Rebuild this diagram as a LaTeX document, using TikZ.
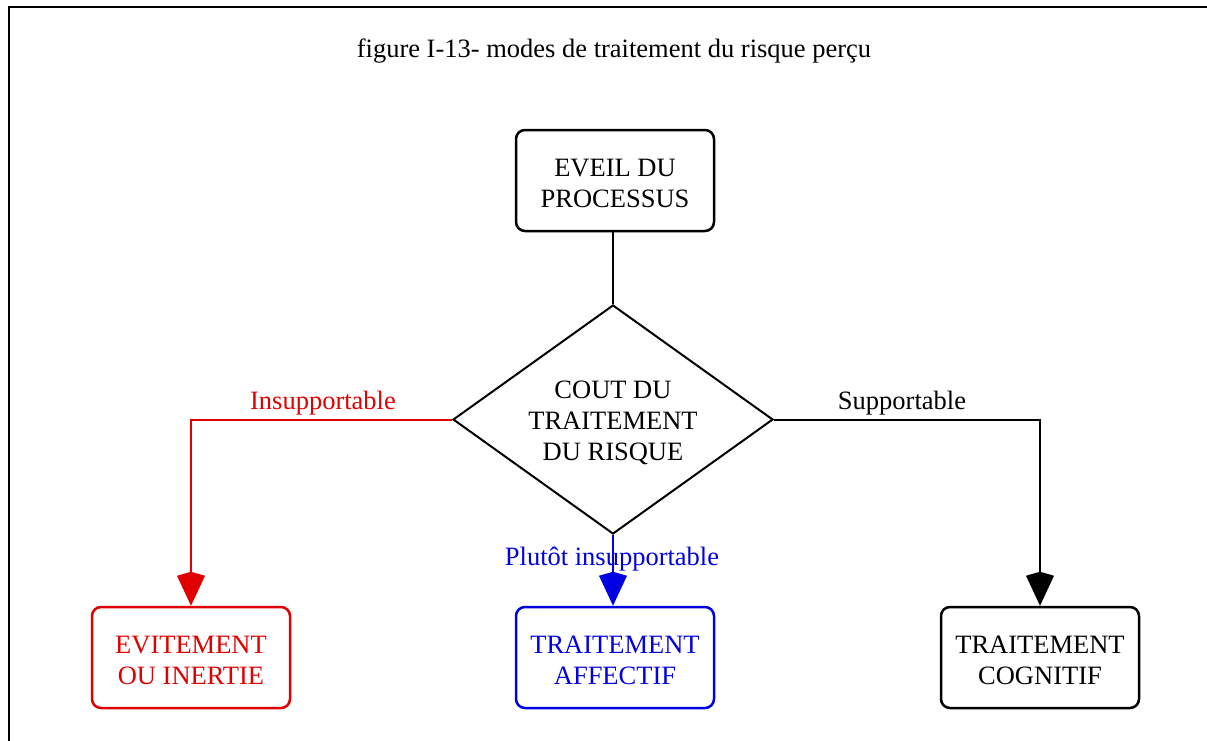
\documentclass[tikz,border=0pt]{standalone}
\usepackage{fontspec}
\setmainfont{Liberation Serif}
\usetikzlibrary{arrows.meta,shapes.geometric}
\definecolor{rred}{RGB}{225,0,0}
\definecolor{rblue}{RGB}{0,0,225}
\begin{document}
\begin{tikzpicture}[x=1pt,y=-1pt,
  every node/.style={font=\fontsize{26.5}{31}\selectfont},
  box/.style={draw, line width=2.5pt, rounded corners=9pt,
    minimum width=198pt, minimum height=101pt, inner sep=0pt},
  decision/.style={diamond, draw, line width=2pt, aspect=1.4,
    minimum width=320pt, minimum height=229pt, inner sep=0pt},
  inner/.style={align=center, inner sep=0pt, yshift=-3pt},
  link/.style={line width=2pt},
  tipk/.style={-{Kite[length=34pt,width=28pt,inset=4pt]}},
]
\useasboundingbox (0,0) rectangle (1207,740);
% outer frame (runs past the page edges)
\draw[line width=2pt] (9,750) -- (9,7) -- (1220,7);

\node (title) at (614,51) {figure I-13- modes de traitement du risque perçu};

\node[box, label={[inner]center:{EVEIL DU\\PROCESSUS}}] (eveil) at (615,180.5) {};
\node[decision, label={[inner]center:{COUT DU\\TRAITEMENT\\DU RISQUE}}] (cout) at (613,419.5) {};

\node[box, rred, label={[inner, text=rred]center:{EVITEMENT\\OU INERTIE}}] (evit) at (191,657.5) {};
\node[box, rblue, label={[inner, text=rblue]center:{TRAITEMENT\\AFFECTIF}}] (aff) at (615,657.5) {};
\node[box, label={[inner]center:{TRAITEMENT\\COGNITIF}}] (cog) at (1040,657.5) {};

\draw[link] (eveil.south -| cout.north) -- (cout.north);
\draw[link, rred, tipk] (cout.west) -| (evit.north);
\draw[link, rblue, tipk] (cout.south) -- (cout.south |- aff.north);
\draw[link, tipk] (cout.east) -| (cog.north);

\node[text=rred] (lins) at (323,403) {Insupportable};
\node (lsup) at (902,403) {Supportable};
\node[text=rblue] (lplu) at (612,559) {Plutôt insupportable};
\end{tikzpicture}
\end{document}
